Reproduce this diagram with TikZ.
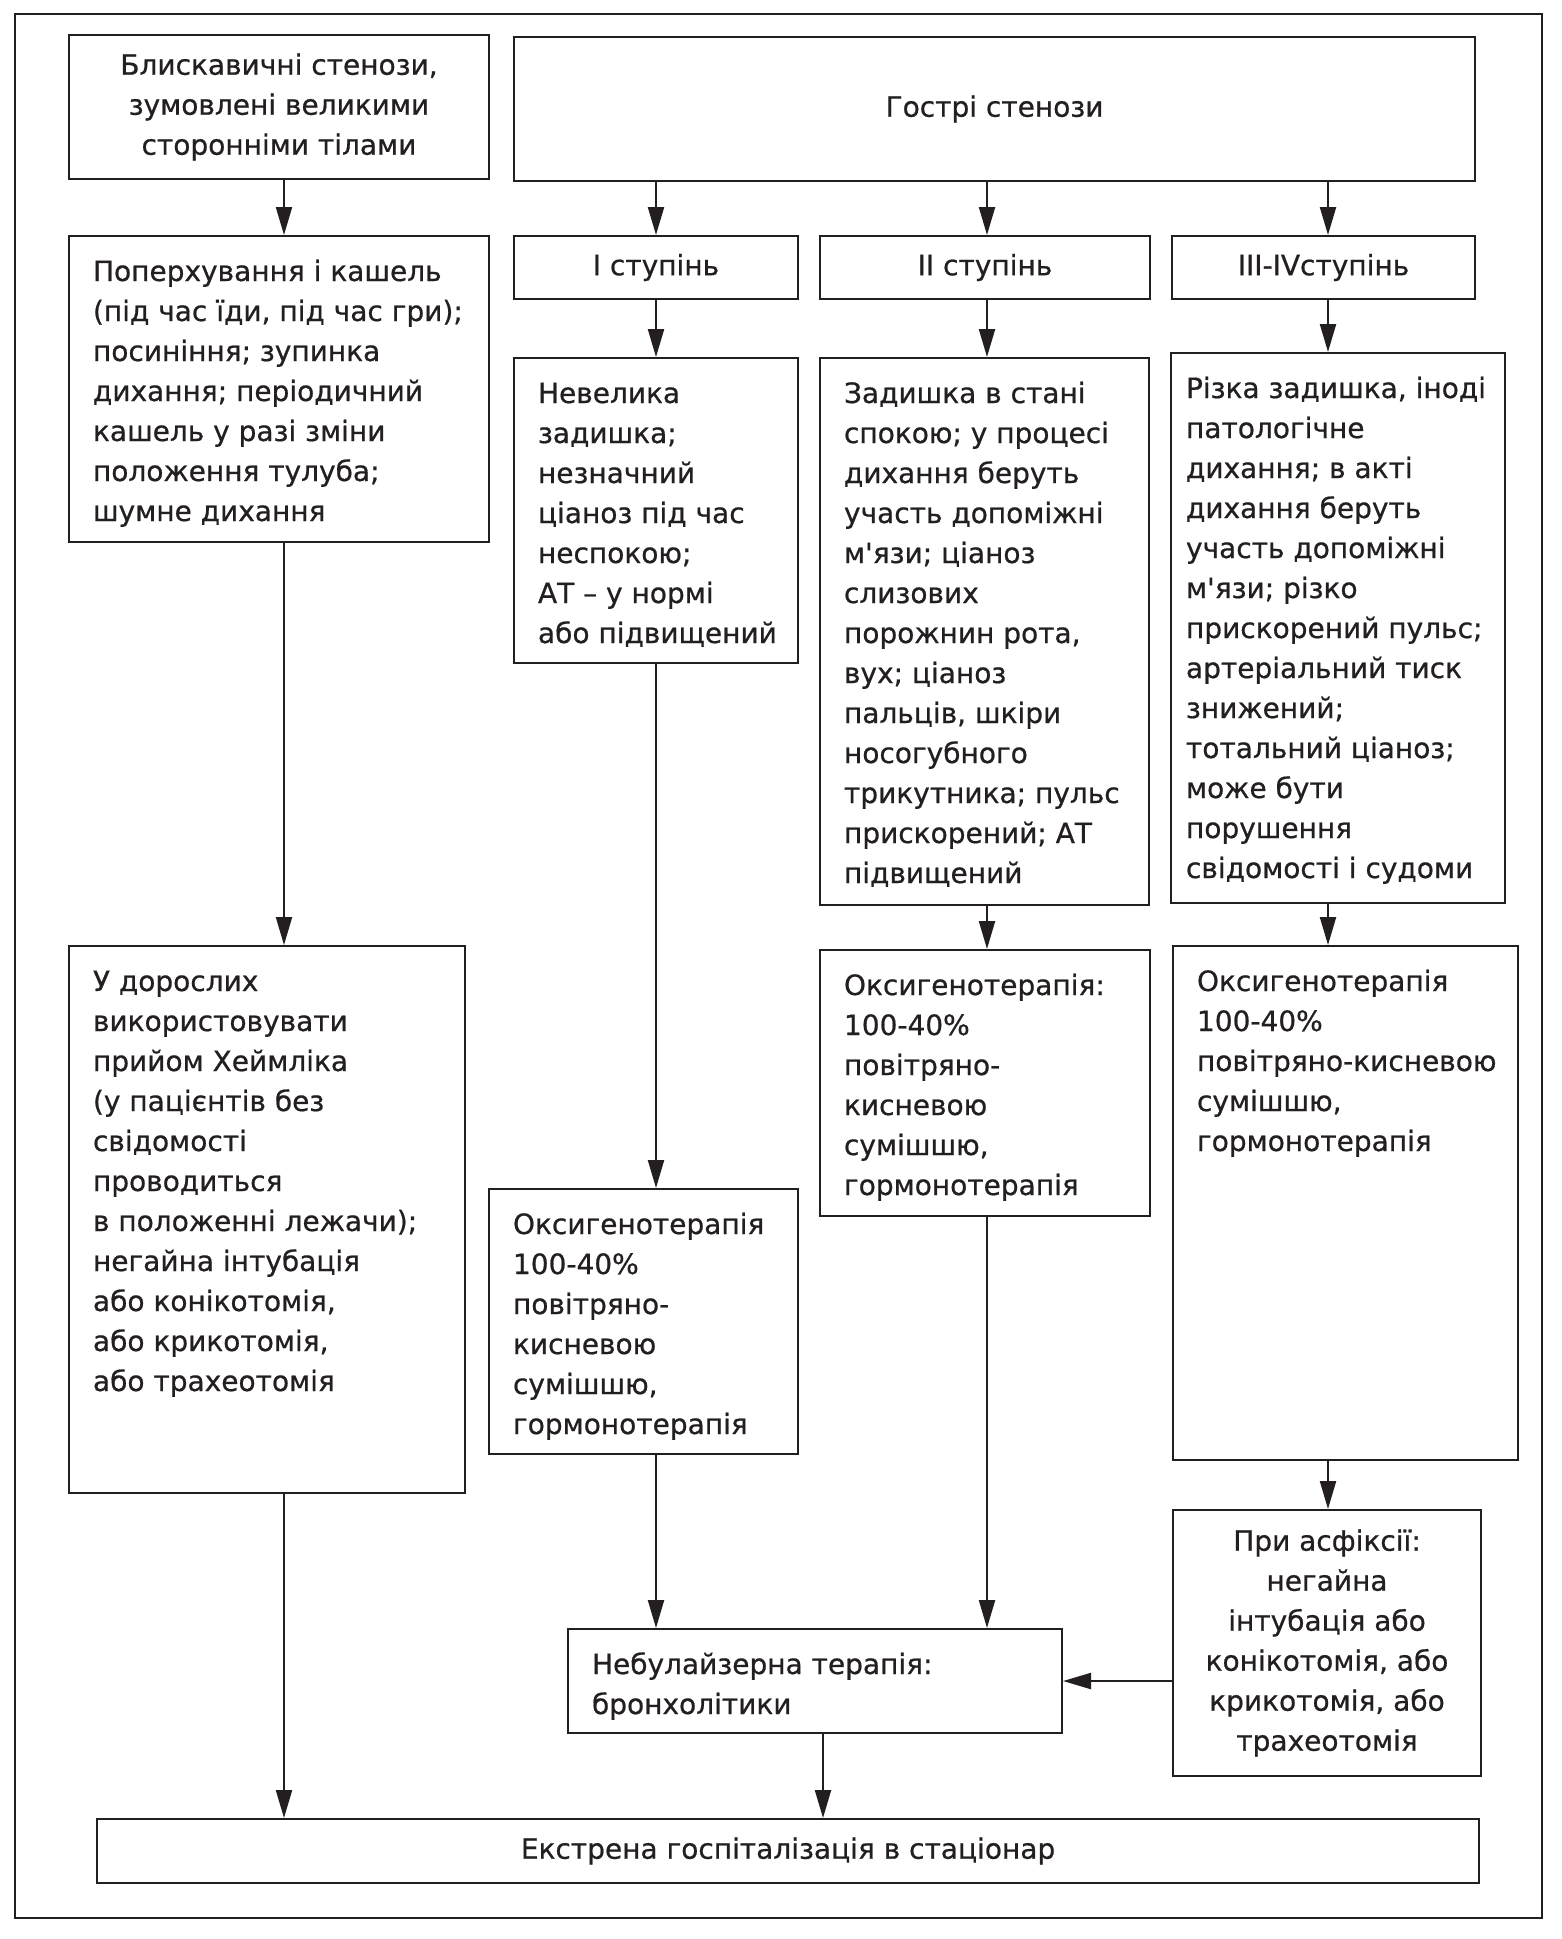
\documentclass[tikz,border=0pt]{standalone}
\usepackage{fontspec}
\setmainfont{DejaVu Sans}[FakeBold=0.7]
\usepackage{tikz}
\usetikzlibrary{arrows.meta}
\usetikzlibrary{calc}
\tikzset{>={Triangle[length=14pt,width=8pt]}}
\definecolor{ink}{RGB}{35,31,32}
\newcommand{\boxtext}[4][12pt]{% [left pad]{width}{height}{text}
	\parbox[c][#3][t]{#2}{\raggedright\leftskip=#1\relax\rule{0pt}{22.5pt}#4}%
}
\tikzset{
	card/.style={draw=ink, line width=1pt, inner sep=0pt, anchor=north west, text=ink},
	flow/.style={->, draw=ink, line width=1.1pt},
}

\begin{document}
\begin{tikzpicture}[x=0.5pt, y=-0.5pt, font=\fontsize{14}{20}\selectfont]
				\useasboundingbox (0,0) rectangle (1562,1939);
				\draw[ink, line width=0.8pt] (15,14) rectangle (1542,1918);

				% top row
				\node[card, align=center, minimum width=210pt, minimum height=72pt] (blisk) at (68,34)
					{Блискавичні стенози,\\ зумовлені великими\\ сторонніми тілами};
				\node[card, align=center, minimum width=480.5pt, minimum height=72pt] (gostri) at (513,36)
					{Гострі стенози};

				\node[card] (sympt) at (68,235) {\boxtext{210pt}{153pt}{Поперхування і кашель\\ (під час їди, під час гри);\\ посиніння; зупинка\\ дихання; періодичний\\ кашель у разі зміни\\ положення тулуба;\\ шумне дихання}};
				\node[card, minimum width=142pt, minimum height=31.5pt] (st1) at (513,235) {I ступінь};
				\node[card, minimum width=165pt, minimum height=31.5pt] (st2) at (819,235) {II ступінь};
				\node[card, minimum width=151.5pt, minimum height=31.5pt] (st3) at (1171,235) {III-IVступінь};

				\node[card] (txt1) at (513,357) {\boxtext{142pt}{152.5pt}{Невелика\\ задишка;\\ незначний\\ ціаноз під час\\ неспокою;\\ АТ – у нормі\\ або підвищений}};
				\node[card] (txt2) at (819,357) {\boxtext{164.5pt}{273.5pt}{Задишка в стані\\ спокою; у процесі\\ дихання беруть\\ участь допоміжні\\ м\textquotesingle язи; ціаноз\\ слизових\\ порожнин рота,\\ вух; ціаноз\\ пальців, шкіри\\ носогубного\\ трикутника; пульс\\ прискорений; АТ\\ підвищений}};
				\node[card] (txt3) at (1170,352) {\boxtext[7.5pt]{167pt}{275pt}{Різка задишка, іноді\\ патологічне\\ дихання; в акті\\ дихання беруть\\ участь допоміжні\\ м\textquotesingle язи; різко\\ прискорений пульс;\\ артеріальний тиск\\ знижений;\\ тотальний ціаноз;\\ може бути\\ порушення\\ свідомості і судоми}};

				\node[card] (heiml) at (68,945) {\boxtext{198pt}{273.5pt}{У дорослих\\ використовувати\\ прийом Хеймліка\\ (у пацієнтів без\\ свідомості\\ проводиться\\ в положенні лежачи);\\ негайна інтубація\\ або конікотомія,\\ або крикотомія,\\ або трахеотомія}};
				\node[card] (oxy1) at (488,1188) {\boxtext{154.5pt}{132.5pt}{Оксигенотерапія\\ 100-40\%\\ повітряно-\\ кисневою\\ сумішшю,\\ гормонотерапія}};
				\node[card] (oxy2) at (819,949) {\boxtext{165pt}{133pt}{Оксигенотерапія:\\ 100-40\%\\ повітряно-\\ кисневою\\ сумішшю,\\ гормонотерапія}};
				\node[card] (oxy3) at (1172,945) {\boxtext{172.5pt}{257pt}{Оксигенотерапія\\ 100-40\%\\ повітряно-кисневою\\ сумішшю,\\ гормонотерапія}};

				\node[card, align=center, minimum width=154pt, minimum height=133pt] (asfix) at (1172,1509)
					{При асфіксії:\\ негайна\\ інтубація або\\ конікотомія, або\\ крикотомія, або\\ трахеотомія};
				\node[card] (nebul) at (567,1628) {\boxtext{247pt}{52pt}{Небулайзерна терапія:\\ бронхолітики}};
				\node[card, minimum width=691pt, minimum height=32pt] (hosp) at (96,1818) {Екстрена госпіталізація в стаціонар};

				% column axes
				\coordinate (lcol) at (284,0);
				\coordinate (col1) at (656,0);
				\coordinate (col2) at (987,0);
				\coordinate (col3) at (1328,0);

				\draw[flow] (blisk.south -| lcol) -- (sympt.north -| lcol);
				\draw[flow] (sympt.south -| lcol) -- (heiml.north -| lcol);
				\draw[flow] (heiml.south -| lcol) -- (hosp.north -| lcol);

				\draw[flow] (gostri.south -| col1) -- (st1.north -| col1);
				\draw[flow] (st1.south -| col1) -- (txt1.north -| col1);
				\draw[flow] (txt1.south -| col1) -- (oxy1.north -| col1);
				\draw[flow] (oxy1.south -| col1) -- (nebul.north -| col1);

				\draw[flow] (gostri.south -| col2) -- (st2.north -| col2);
				\draw[flow] (st2.south -| col2) -- (txt2.north -| col2);
				\draw[flow] (txt2.south -| col2) -- (oxy2.north -| col2);
				\draw[flow] (oxy2.south -| col2) -- (nebul.north -| col2);

				\draw[flow] (gostri.south -| col3) -- (st3.north -| col3);
				\draw[flow] (st3.south -| col3) -- (txt3.north -| col3);
				\draw[flow] (txt3.south -| col3) -- (oxy3.north -| col3);
				\draw[flow] (oxy3.south -| col3) -- (asfix.north -| col3);

				\draw[flow] (nebul.east -| asfix.west) -- (nebul.east);
				\draw[flow] ([xshift=4pt]nebul.south) -- ([xshift=4pt]nebul.south |- hosp.north);
\end{tikzpicture}
\end{document}
